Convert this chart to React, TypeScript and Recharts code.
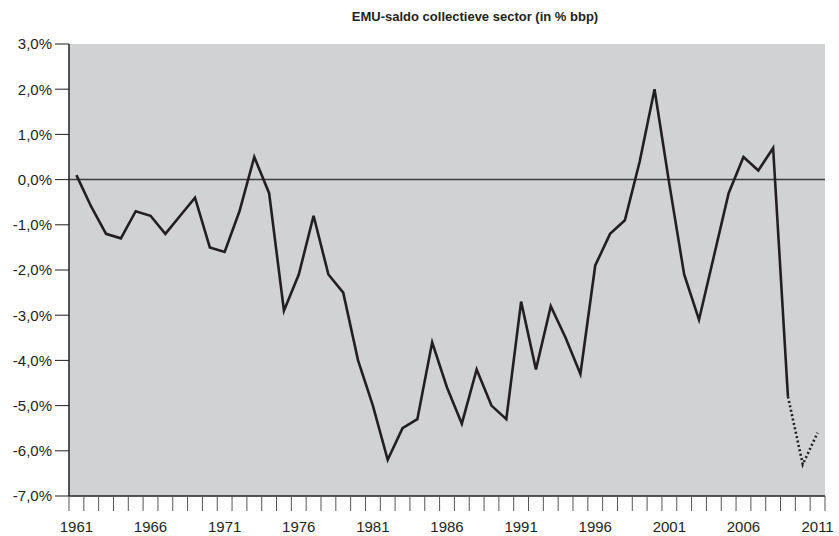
import React from "react";
import { CartesianGrid, Line, LineChart, ReferenceLine, XAxis, YAxis } from "recharts";

// EMU-saldo collectieve sector, % bbp
const FIRST_YEAR = 1961;
const LAST_YEAR = 2011;

// realisatie 1961-2009
const SALDO = [
  0.1, -0.6, -1.2, -1.3, -0.7, -0.8, -1.2, -0.8, -0.4, -1.5,
  -1.6, -0.7, 0.5, -0.3, -2.9, -2.1, -0.8, -2.1, -2.5, -4.0,
  -5.0, -6.2, -5.5, -5.3, -3.6, -4.6, -5.4, -4.2, -5.0, -5.3,
  -2.7, -4.2, -2.8, -3.5, -4.3, -1.9, -1.2, -0.9, 0.4, 2.0,
  -0.1, -2.1, -3.1, -1.7, -0.3, 0.5, 0.2, 0.7, -4.8,
];

// raming 2009-2011 (gestippeld)
const RAMING_YEARS = [2009, 2010, 2011];
const RAMING = [-4.8, -6.3, -5.6];

const Y_TICKS = [-7, -6, -5, -4, -3, -2, -1, 0, 1, 2, 3];
const LABEL_YEARS = [1961, 1966, 1971, 1976, 1981, 1986, 1991, 1996, 2001, 2006, 2011];

const years = Array.from({ length: LAST_YEAR - FIRST_YEAR + 1 }, (_, i) => FIRST_YEAR + i);
const tickMarks = Array.from({ length: years.length + 1 }, (_, i) => FIRST_YEAR - 0.5 + i);
const data = years.map((year, i) => {
  const r = RAMING_YEARS.indexOf(year);
  return {
    year,
    saldo: i < SALDO.length ? SALDO[i] : null,
    raming: r >= 0 ? RAMING[r] : null,
  };
});

const FONT = "'Liberation Sans', Arial, Helvetica, sans-serif";
const INK = "#231f20";
const domainX: [number, number] = [FIRST_YEAR - 0.5, LAST_YEAR + 0.5];
const pct = (v: number) => `${v.toFixed(1).replace(".", ",")}%`;

export default function App() {
  return (
    <div style={{ position: "absolute", left: 0, top: 0, width: 839, height: 536, background: "#fff" }}>
      <div
        style={{
          position: "absolute",
          left: 0,
          width: 950,
          top: 9,
          textAlign: "center",
          fontFamily: FONT,
          fontWeight: 700,
          fontSize: 13,
          color: INK,
        }}
      >
        EMU-saldo collectieve sector (in % bbp)
      </div>
      <LineChart width={839} height={536} data={data} margin={{ top: 44, right: 14, bottom: 0, left: 0 }}>
        <CartesianGrid horizontal={false} vertical={false} fill="#d1d2d4" xAxisId="years" />
        {/* tick marks between the years */}
        <XAxis
          xAxisId="marks"
          type="number"
          dataKey="year"
          domain={domainX}
          ticks={tickMarks}
          interval={0}
          tickFormatter={() => ""}
          tickSize={15}
          height={1}
          axisLine={{ stroke: INK, strokeWidth: 1.5 }}
          tickLine={{ stroke: "#555" }}
          allowDataOverflow
        />
        {/* year labels, centred on the years */}
        <XAxis
          xAxisId="years"
          type="number"
          dataKey="year"
          domain={domainX}
          ticks={LABEL_YEARS}
          interval={0}
          height={39}
          axisLine={false}
          tickLine={false}
          tickSize={0}
          tickMargin={24}
          tick={{ fill: INK, fontSize: 15, fontFamily: FONT }}
          allowDataOverflow
        />
        <YAxis
          type="number"
          domain={[-7, 3]}
          ticks={Y_TICKS}
          interval={0}
          width={69}
          tickFormatter={pct}
          tickSize={14}
          tickMargin={3}
          axisLine={{ stroke: INK, strokeWidth: 1.5 }}
          tickLine={{ stroke: INK }}
          tick={{ fill: INK, fontSize: 15, fontFamily: FONT }}
        />
        <ReferenceLine y={0} xAxisId="years" stroke="#3d3d3d" strokeWidth={1.5} />
        <Line
          xAxisId="years"
          type="linear"
          dataKey="saldo"
          stroke={INK}
          strokeWidth={2.6}
          dot={false}
          activeDot={false}
          isAnimationActive={false}
        />
        <Line
          xAxisId="marks"
          type="linear"
          dataKey="raming"
          stroke={INK}
          strokeWidth={2.6}
          strokeDasharray="2 2.5"
          dot={false}
          activeDot={false}
          isAnimationActive={false}
        />
      </LineChart>
    </div>
  );
}
